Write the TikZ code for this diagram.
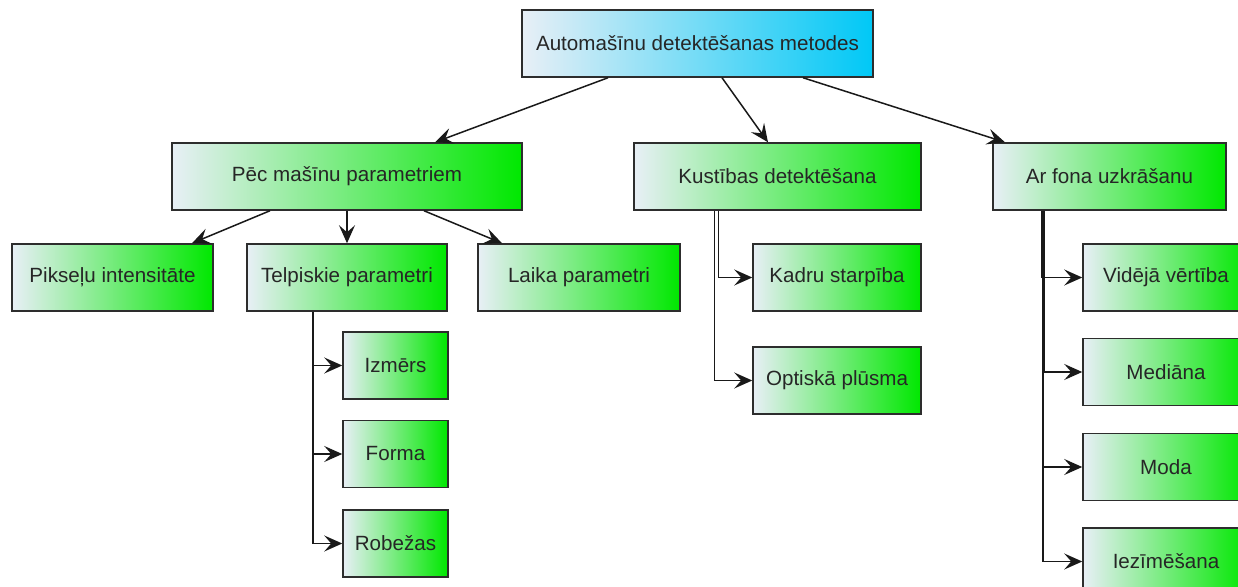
\documentclass[tikz,border=0pt]{standalone}
\usepackage{fontspec}
\setmainfont{Liberation Sans}
\usetikzlibrary{arrows.meta}
\definecolor{boxstart}{RGB}{232,239,246}
\definecolor{boxgreen}{RGB}{0,232,0}
\definecolor{boxcyan}{RGB}{0,200,246}
\definecolor{boxline}{RGB}{45,45,45}

\begin{document}
\begin{tikzpicture}[x=0.5pt,y=-0.5pt,line width=0.75pt]
	\def \rowzero{43.5}
	\def \rowone{176.5}
	\def \rowtwo{277.5}
	\tikzstyle{b-node}=[rectangle,draw=boxline,line width=0.75pt,left color=boxstart,right color=boxgreen,minimum height=33.5pt,inner sep=0pt,text=black!85,font=\fontsize{10.3}{12}\selectfont]
	\tikzstyle{t-node}=[b-node,right color=boxcyan]
	\tikzstyle{link}=[-{Stealth[length=9pt,width=8pt,inset=3.5pt]},draw=black!90]
	\useasboundingbox (0,0) rectangle (1238,587);

	% top
	\node[t-node,minimum width=175.5pt]	(top)	at (697.5,\rowzero)	{Automašīnu detektēšanas metodes};

	% first level
	\node[b-node,minimum width=175pt]	(pec)	at (347,\rowone)	{Pēc mašīnu parametriem};
	\node[b-node,minimum width=143.5pt]	(kust)	at (777.5,\rowone)	{Kustības detektēšana};
	\node[b-node,minimum width=116.5pt]	(ar)	at (1109.5,\rowone)	{Ar fona uzkrāšanu};

	% second level
	\node[b-node,minimum width=100.5pt]	(pik)	at (112.5,\rowtwo)	{Pikseļu intensitāte};
	\node[b-node,minimum width=100pt]	(telp)	at (347,\rowtwo)	{Telpiskie parametri};
	\node[b-node,minimum width=101pt]	(laika)	at (579,\rowtwo)	{Laika parametri};
	\node[b-node,minimum width=84pt]	(kadru)	at (837,\rowtwo)	{Kadru starpība};
	\node[b-node,minimum width=84pt]	(opt)	at (837,380.5)	{Optiskā plūsma};
	\node[b-node,minimum width=83pt]	(vid)	at (1166,\rowtwo)	{Vidējā vērtība};
	\node[b-node,minimum width=83pt]	(med)	at (1166,372)	{Mediāna};
	\node[b-node,minimum width=83pt]	(moda)	at (1166,467)	{Moda};
	\node[b-node,minimum width=83pt]	(iez)	at (1166,561.5)	{Iezīmēšana};

	% third level
	\node[b-node,minimum width=52.5pt]	(izm)	at (395.5,365.5)	{Izmērs};
	\node[b-node,minimum width=52.5pt]	(forma)	at (395.5,454)	{Forma};
	\node[b-node,minimum width=52.5pt]	(rob)	at (395.5,543.5)	{Robežas};

	\path
		([xshift=-44.75pt]top.south)	edge[link]	([xshift=44pt]pec.north)
		([xshift=12.25pt]top.south)	edge[link]	([xshift=-4.75pt]kust.north)
		([xshift=52.75pt]top.south)	edge[link]	([xshift=-52.25pt]ar.north)

		([xshift=-38.5pt]pec.south)	edge[link]	([xshift=39.75pt]pik.north)
		(pec.south)	edge[link]	(telp.north)
		([xshift=38.5pt]pec.south)	edge[link]	([xshift=-38.5pt]laika.north);

	\draw[link] ([xshift=-17pt]telp.south) |- (izm.west);
	\draw[link] ([xshift=-17pt]telp.south) |- (forma.west);
	\draw[link] ([xshift=-17pt]telp.south) |- (rob.west);

	\draw[link] ([xshift=-29.5pt]kust.south) |- (kadru.west);
	\draw[link] ([xshift=-31.5pt]kust.south) |- (opt.west);

	\draw[link] ([xshift=-33.75pt]ar.south) |- (vid.west);
	\draw[link] ([xshift=-32.75pt]ar.south) |- (med.west);
	\draw[link] ([xshift=-33.25pt]ar.south) |- (moda.west);
	\draw[link] ([xshift=-33.25pt]ar.south) |- (iez.west);
\end{tikzpicture}
\end{document}
